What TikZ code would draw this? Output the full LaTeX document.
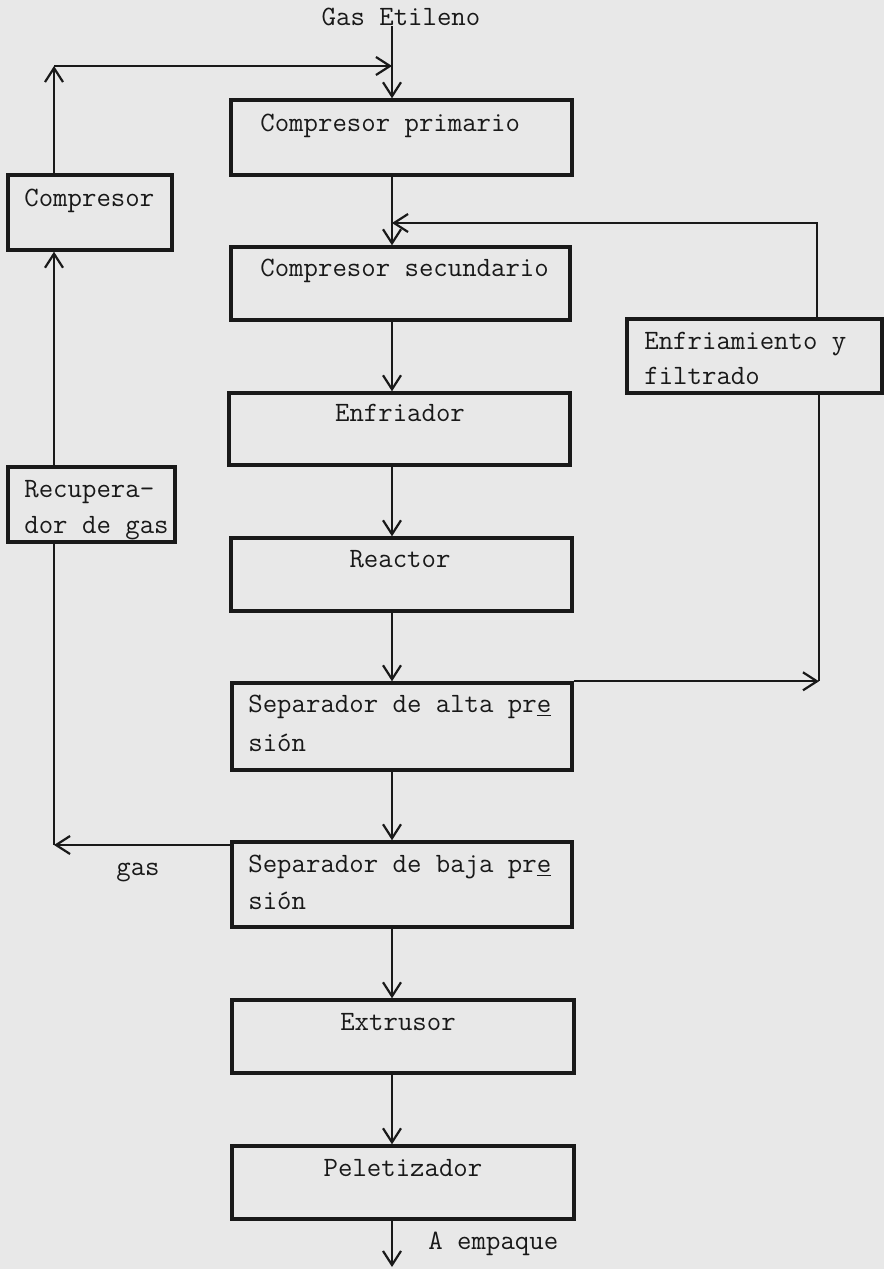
\documentclass[tikz,border=0pt]{standalone}
\usepackage{fontspec}
\usetikzlibrary{arrows.meta,fit}
\definecolor{paper}{RGB}{232,232,232}
\definecolor{ink}{RGB}{25,25,25}
\begin{document}
\begin{tikzpicture}[x=0.5pt,y=-0.5pt,
  box/.style={draw=ink, line width=1.7pt, inner sep=0pt},
  flow/.style={draw=ink, line width=1.1pt, -{Straight Barb[length=7pt,width=9pt,line width=1.1pt]}},
  plain/.style={draw=ink, line width=1.1pt},
  txt/.style={font=\ttfamily\fontsize{14}{18}\selectfont, inner sep=0pt, text=ink}]
\useasboundingbox (0,0) rectangle (884,1269);
\fill[paper] (0,0) rectangle (884,1269);

% main column boxes
\node[box, fit={(231,100) (572,175)}] (cp) {};
\node[box, fit={(231,247) (570,320)}] (cs) {};
\node[box, fit={(229,393) (570,465)}] (enf) {};
\node[box, fit={(231,538) (572,611)}] (rea) {};
\node[box, fit={(232,683) (572,770)}] (sa) {};
\node[box, fit={(232,842) (572,927)}] (sb) {};
\node[box, fit={(232,1000) (574,1073)}] (ext) {};
\node[box, fit={(232,1146) (574,1219)}] (pel) {};
% side boxes
\node[box, fit={(8,175) (172,250)}] (comp) {};
\node[box, fit={(8,467) (175,542)}] (rec) {};
\node[box, fit={(627,319) (882,393)}] (ef) {};

% texts
\node[txt] (ge) at (401,17) {Gas Etileno};
\node[txt, anchor=mid west] (tcp) at (260,127) {Compresor primario};
\node[txt, anchor=mid west] (tcs) at (260,272) {Compresor secundario};
\node[txt, anchor=mid] (tenf) at (400,417) {Enfriador};
\node[txt, anchor=mid] (trea) at (400,563) {Reactor};
\node[txt, anchor=mid west] (tsa1) at (248,708) {Separador de alta pr\underline{e}};
\node[txt, anchor=mid west] (tsa2) at (248,747) {sión};
\node[txt, anchor=mid west] (tsb1) at (248,868) {Separador de baja pr\underline{e}};
\node[txt, anchor=mid west] (tsb2) at (248,905) {sión};
\node[txt, anchor=mid] (text) at (398,1026) {Extrusor};
\node[txt, anchor=mid] (tpel) at (403,1172) {Peletizador};
\node[txt, anchor=mid west] (tcomp) at (24,202) {Compresor};
\node[txt, anchor=mid west] (trec1) at (24,493) {Recupera-};
\node[txt, anchor=mid west] (trec2) at (24,529) {dor de gas};
\node[txt, anchor=mid west] (tef1) at (644,345) {Enfriamiento y};
\node[txt, anchor=mid west] (tef2) at (644,380) {filtrado};
\node[txt] (tgas) at (138,872) {gas};
\node[txt, anchor=mid west] (temp) at (428,1245) {A empaque};

% helper coordinates
\coordinate (fx) at (392,0);
\coordinate (tl) at (54,66);
\coordinate (tr) at (817,223);
\coordinate (br) at (819,683);
\coordinate (bl) at (54,845);
\coordinate (out) at (392,1267);

% main flow
\draw[flow] (ge.south -| fx) -- (cp.north -| fx);
\draw[flow] (cp.south -| fx) -- (cs.north -| fx);
\draw[flow] (cs.south -| fx) -- (enf.north -| fx);
\draw[flow] (enf.south -| fx) -- (rea.north -| fx);
\draw[flow] (rea.south -| fx) -- (sa.north -| fx);
\draw[flow] (sa.south -| fx) -- (sb.north -| fx);
\draw[flow] (sb.south -| fx) -- (ext.north -| fx);
\draw[flow] (ext.south -| fx) -- (pel.north -| fx);
\draw[flow] (pel.south -| fx) -- (out);

% recycle loop (left)
\draw[flow] (comp.north -| tl) -- (tl);
\draw[flow] (tl) -- (tl -| fx);
\draw[flow] (rec.north -| tl) -- (comp.south -| tl);
\draw[flow] (sb.north west |- bl) -- (bl);
\draw[plain] (bl) -- (rec.south -| bl);

% recycle loop (right)
\draw[flow] (sa.north east) -- (sa.north east -| br);
\draw[plain] (ef.south -| br) -- (sa.north east -| br);
\draw[flow] (ef.north -| tr) -- (tr) -- (tr -| fx);
\end{tikzpicture}
\end{document}
